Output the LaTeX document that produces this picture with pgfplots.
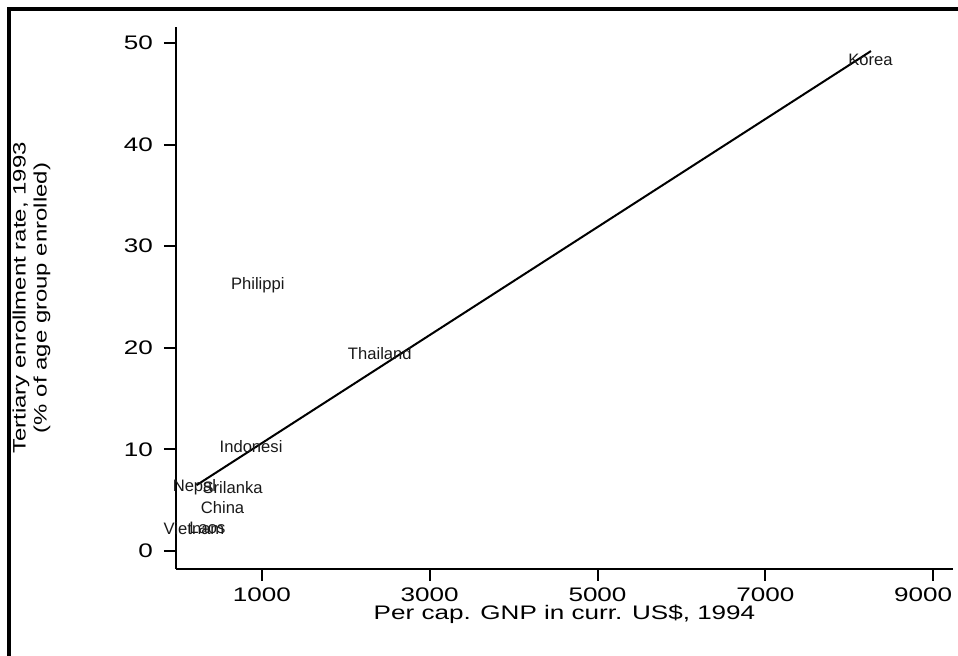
\documentclass[border=0pt]{standalone}
\usepackage{fontspec}
% wide sans for the axis text, plain sans for the country labels
\setmainfont{Liberation Sans}[FakeStretch=1.33]
\newfontfamily\lblfont{Liberation Sans}
\usepackage{pgfplots}
\usepackage{pgfplotstable}
\pgfplotsset{compat=1.18}

% per capita GNP (US$, 1994) and tertiary enrollment (%, 1993)
\pgfplotstableread{
gnp  tert  name
190  2.23  Vietnam
350  2.23  Laos
530  4.26  China
195  6.25  Nepal
650  6.25  Srilanka
870  10.3  Indonesi
950  26.2  Philippi
2405 19.4  Thailand
8255 48.3  Korea
}\countries

% fitted line, end points
\pgfplotstableread{
gnp  fit
220  6.48
8260 49.2
}\fitline

\begin{document}
\begin{tikzpicture}
\useasboundingbox (0,0) rectangle (479pt,328pt);
\draw[line width=2pt, line join=miter] (4.35pt,-2pt) -- (4.35pt,323.65pt) -- (481pt,323.65pt);
\begin{axis}[
  at={(88pt,43.5pt)}, anchor=south west,
  scale only axis, width=388.5pt, height=271pt,
  xmin=-25, xmax=9238, ymin=-1.77, ymax=51.57,
  axis x line*=bottom, axis y line*=left,
  axis line style={line width=1pt, -},
  xtick={1000,3000,5000,7000},
  extra x ticks={9000},
  extra x tick style={xticklabel style={xshift=-5pt}},
  ytick={0,10,20,30,40,50},
  tick align=outside, major tick length=6pt,
  tick style={line width=1pt, black},
  minor tick num=0,
  scaled ticks=false,
  /pgf/number format/assume math mode=true,
  /pgf/number format/1000 sep={},
  tick label style={font=\fontsize{9.8}{11}\selectfont},
  yticklabel style={xshift=-2pt},
  xlabel={Per cap. GNP in curr. US\$, 1994},
  xlabel style={font=\fontsize{9.8}{11}\selectfont,
    at={(axis description cs:0.5,-0.0941)}, anchor=base},
  ylabel={Tertiary enrollment rate, 1993\\(\% of age group enrolled)},
  ylabel style={font=\fontsize{9}{10.5}\selectfont, align=center,
    at={(axis description cs:-0.186,0.5)}, anchor=center},
  clip=false,
]
\addplot[line width=1pt, black] table[x=gnp, y=fit] {\fitline};
\addplot[draw=none, mark=none,
  nodes near coords, point meta=explicit symbolic,
  nodes near coords align=center,
  nodes near coords style={font=\lblfont\fontsize{8.3}{10}\selectfont,
    inner sep=0pt, text=black!90}]
  table[x=gnp, y=tert, meta=name] {\countries};
\end{axis}
\end{tikzpicture}
\end{document}
